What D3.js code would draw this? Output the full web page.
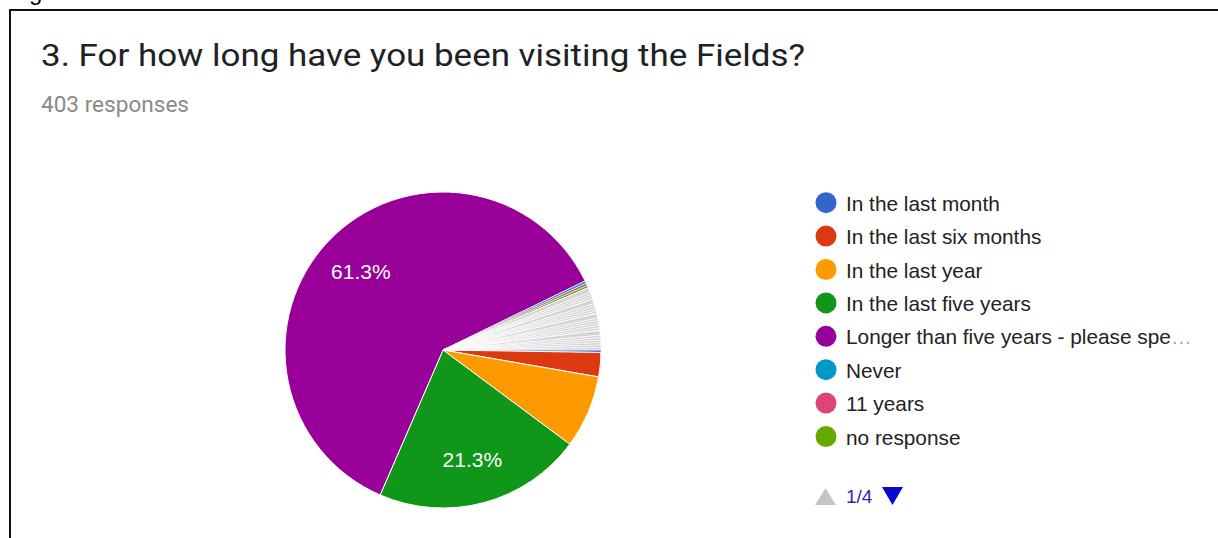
<!DOCTYPE html>
<html>
<head>
<meta charset="utf-8">
<script src="https://cdnjs.cloudflare.com/ajax/libs/d3/7.8.5/d3.min.js"></script>
<style>
  html, body { margin: 0; padding: 0; background: #fff; }
  svg { display: block; }
</style>
</head>
<body>
<svg id="chart" width="1218" height="538"></svg>
<script>
// Survey question and response count
const questionTitle = "3. For how long have you been visiting the Fields?";
const responseCount = 403;

// Answers listed on the first legend page, with their response counts
const answerLabels = [
  "In the last month",
  "In the last six months",
  "In the last year",
  "In the last five years",
  "Longer than five years - please specify",
  "Never",
  "11 years",
  "no response"
];
const answerCounts = [1, 10, 30, 86, 247, 1, 1, 1];
const answerColors = ["#3366cc", "#dc3912", "#ff9900", "#109618", "#990099", "#0099c6", "#dd4477", "#66aa00"];

// Remaining written-in answers (legend pages 2-4), counts only
const writtenInCounts = [2, 1, 1, 1, 2, 1, 1, 1, 1, 2, 1, 1, 1, 1, 1, 2, 1, 1, 1, 1, 1, 1];
const writtenInColor = "#d4d4d4";

// Legend paging
const legendPage = 1;
const legendPages = 4;

const svg = d3.select("#chart");

// Card outline (runs off the right and bottom of the view)
svg.append("rect")
  .attr("x", 10).attr("y", 10)
  .attr("width", 1240).attr("height", 560)
  .attr("fill", "#fff")
  .attr("stroke", "#111").attr("stroke-width", 2);

// Descender of the line above the card
svg.append("text")
  .attr("x", 29).attr("y", 0)
  .attr("font-family", "Arial, 'Liberation Sans', sans-serif")
  .attr("font-size", 24)
  .attr("fill", "#000")
  .text("g");

// Header
svg.append("text")
  .attr("x", 41).attr("y", 66)
  .attr("font-family", "Roboto, Arial, sans-serif")
  .attr("font-size", 32)
  .attr("textLength", 764)
  .attr("lengthAdjust", "spacingAndGlyphs")
  .attr("fill", "#202124")
  .text(questionTitle);

svg.append("text")
  .attr("x", 41).attr("y", 112)
  .attr("font-family", "Roboto, Arial, sans-serif")
  .attr("font-size", 21.5)
  .attr("textLength", 148)
  .attr("lengthAdjust", "spacingAndGlyphs")
  .attr("fill", "#8a8a8a")
  .text(`${responseCount} responses`);

// Pie data: first-page answers followed by the written-in ones
const slices = answerLabels.map((label, i) => ({ label, value: answerCounts[i], color: answerColors[i] }))
  .concat(writtenInCounts.map((v, i) => ({ label: `written-in ${i + 1}`, value: v, color: writtenInColor })));

const total = d3.sum(slices, d => d.value);
const cx = 443, cy = 350, radius = 158;

const pie = d3.pie()
  .sort(null)
  .value(d => d.value)
  .startAngle(Math.PI / 2)
  .endAngle(Math.PI / 2 + 2 * Math.PI);

const arc = d3.arc().innerRadius(0).outerRadius(radius);
const labelArc = d3.arc().innerRadius(radius * 0.72).outerRadius(radius * 0.72);

const g = svg.append("g").attr("transform", `translate(${cx},${cy})`);
const arcs = pie(slices);

g.selectAll("path.slice")
  .data(arcs)
  .join("path")
  .attr("class", "slice")
  .attr("d", arc)
  .attr("fill", d => d.data.color)
  .attr("stroke", "#fff")
  .attr("stroke-width", d => (d.endAngle - d.startAngle) < 0.02 ? 0.6 : 1);

const pct = d3.format(".1%");
g.selectAll("text.pct")
  .data(arcs.filter(d => d.data.value / total > 0.1))
  .join("text")
  .attr("class", "pct")
  .attr("transform", d => `translate(${labelArc.centroid(d)})`)
  .attr("text-anchor", "middle")
  .attr("dominant-baseline", "central")
  .attr("font-family", "Arial, 'Liberation Sans', sans-serif")
  .attr("font-size", 21)
  .attr("fill", "#fff")
  .text(d => pct(d.data.value / total));

// Legend (first page)
const legendX = 826, legendY0 = 202.7, legendStep = 33.4, textX = 846, maxTextW = 330;
const legend = svg.append("g");
const rows = legend.selectAll("g.row")
  .data(answerLabels.map((label, i) => ({ label, color: answerColors[i] })))
  .join("g")
  .attr("class", "row")
  .attr("transform", (d, i) => `translate(0,${legendY0 + i * legendStep})`);

rows.append("circle")
  .attr("cx", legendX).attr("cy", 0).attr("r", 10.5)
  .attr("fill", d => d.color);

rows.each(function (d) {
  const row = d3.select(this);
  const t = row.append("text")
    .attr("x", textX).attr("y", 0)
    .attr("dominant-baseline", "central")
    .attr("font-family", "Arial, 'Liberation Sans', sans-serif")
    .attr("font-size", 20.8)
    .attr("fill", "#222");
  const main = t.append("tspan").text(d.label);
  if (t.node().getComputedTextLength() > maxTextW) {
    let s = d.label;
    while (s.length > 1 && main.node().getComputedTextLength() > maxTextW) {
      s = s.slice(0, -1);
      main.text(s);
    }
    t.append("tspan").attr("fill", "#aaa").text("…");
  }
});

// Pager
const pagerY = 496;
svg.append("path")
  .attr("d", d3.line()([[815, pagerY + 9], [836, pagerY + 9], [825.5, pagerY - 8]]) + "Z")
  .attr("fill", "#c4c4c4");
svg.append("text")
  .attr("x", 846).attr("y", pagerY)
  .attr("dominant-baseline", "central")
  .attr("font-family", "Arial, 'Liberation Sans', sans-serif")
  .attr("font-size", 19)
  .attr("fill", "#2a2ab0")
  .text(`${legendPage}/${legendPages}`);
svg.append("path")
  .attr("d", d3.line()([[882, pagerY - 9], [903, pagerY - 9], [892.5, pagerY + 9]]) + "Z")
  .attr("fill", "#0a0acc");
</script>
</body>
</html>
